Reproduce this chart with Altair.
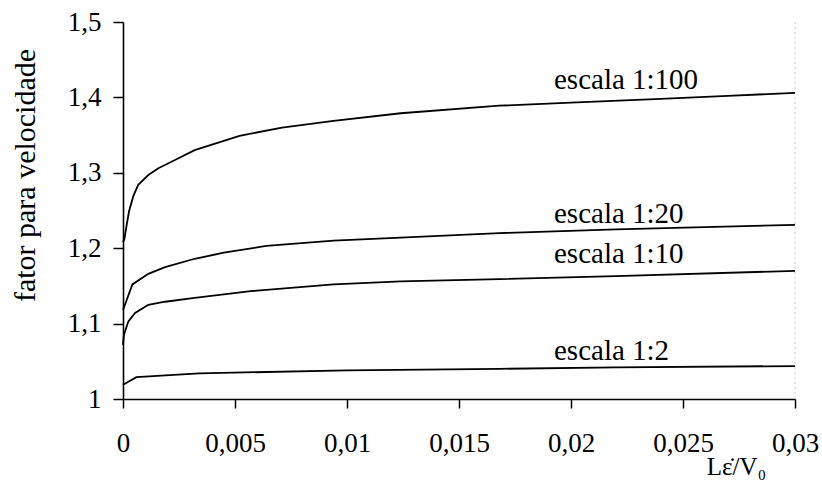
import altair as alt
import pandas as pd

# Velocity factor curves for each model scale
x_100 = [0, 0.00006, 0.000165, 0.00027, 0.00046, 0.00068, 0.00113, 0.00158, 0.00232,
         0.0032, 0.0052, 0.0071, 0.0094, 0.0124, 0.0168, 0.020, 0.024, 0.027, 0.03]
y_100 = [1.208, 1.212, 1.231, 1.249, 1.269, 1.284, 1.297, 1.306, 1.317,
         1.330, 1.349, 1.360, 1.369, 1.379, 1.389, 1.393, 1.398, 1.402, 1.406]

x_20 = [0, 0.00042, 0.00113, 0.00188, 0.0032, 0.0045, 0.0064, 0.0094, 0.0124, 0.0168, 0.022, 0.03]
y_20 = [1.118, 1.152, 1.166, 1.175, 1.186, 1.194, 1.203, 1.210, 1.214, 1.220, 1.225, 1.231]

x_10 = [0, 0.00004, 0.00024, 0.00054, 0.00113, 0.00188, 0.0032, 0.0057, 0.0094, 0.0124, 0.0168, 0.022, 0.03]
y_10 = [1.072, 1.085, 1.103, 1.114, 1.125, 1.129, 1.134, 1.143, 1.152, 1.156, 1.159, 1.163, 1.170]

x_2 = [0, 0.0006, 0.0034, 0.01, 0.0168, 0.022, 0.03]
y_2 = [1.019, 1.029, 1.034, 1.038, 1.040, 1.042, 1.0437]

series_names = ["escala 1:100", "escala 1:20", "escala 1:10", "escala 1:2"]
series_x = [x_100, x_20, x_10, x_2]
series_y = [y_100, y_20, y_10, y_2]

# Curve labels, placed just above the right part of each curve
label_x = [0.01924, 0.01924, 0.01924, 0.01924]
label_y = [1.411, 1.233, 1.180, 1.052]

x_ticks = [0, 0.005, 0.01, 0.015, 0.02, 0.025, 0.03]
y_ticks = [1, 1.1, 1.2, 1.3, 1.4, 1.5]

FONT = "Liberation Serif, Times New Roman, Times, serif"

rows = []
for name, xs, ys in zip(series_names, series_x, series_y):
    for xv, yv in zip(xs, ys):
        rows.append({"serie": name, "x": xv, "y": yv})
curves = pd.DataFrame(rows)
labels = pd.DataFrame({"serie": series_names, "x": label_x, "y": label_y})
edge = pd.DataFrame({"x": [0.03], "y": [1.0], "y2": [1.5]})

x_scale = alt.Scale(domain=[0, 0.03], nice=False, zero=False)
y_scale = alt.Scale(domain=[1, 1.5], nice=False, zero=False)

label_expr = "replace(format(datum.value, '~g'), '.', ',')"

x_axis = alt.Axis(
    values=x_ticks, labelExpr=label_expr, grid=False,
    domainColor="black", domainWidth=1.6, tickColor="black", tickWidth=1.5, tickSize=9,
    labelFont=FONT, labelFontSize=27, labelColor="black", labelPadding=22,
    labelFlush=False, labelOverlap=False,
    title="Lε̇/V₀", titleFont=FONT, titleFontSize=25, titleFontWeight="normal",
    titleColor="black", titleX=613, titleY=55, titleAlign="center", titleBaseline="top",
)
y_axis = alt.Axis(
    values=y_ticks, labelExpr=label_expr, grid=False,
    domainColor="black", domainWidth=1.6, tickColor="black", tickWidth=1.5, tickSize=10,
    labelFont=FONT, labelFontSize=27, labelColor="black", labelPadding=12,
    labelFlush=False, labelOverlap=False,
    title="fator para velocidade", titleFont=FONT, titleFontSize=30,
    titleFontWeight="normal", titleColor="black", titleX=-98, titleY=153,
    titleAlign="center", titleBaseline="middle",
)

edge_line = alt.Chart(edge).mark_rule(
    color="#c8c8c8", strokeWidth=1, strokeDash=[2, 3]
).encode(
    x=alt.X("x:Q", scale=x_scale, axis=x_axis),
    y=alt.Y("y:Q", scale=y_scale, axis=y_axis),
    y2="y2:Q",
)

lines = alt.Chart(curves).mark_line(color="black", strokeWidth=1.8).encode(
    x=alt.X("x:Q", scale=x_scale),
    y=alt.Y("y:Q", scale=y_scale),
    detail="serie:N",
    order="x:Q",
)

texts = alt.Chart(labels).mark_text(
    align="left", baseline="alphabetic", font=FONT, fontSize=29, color="black"
).encode(
    x=alt.X("x:Q", scale=x_scale),
    y=alt.Y("y:Q", scale=y_scale),
    text="serie:N",
)

chart = (
    alt.layer(edge_line, lines, texts)
    .properties(
        width=672,
        height=377,
        padding={"left": 123, "top": 22, "right": 27, "bottom": 85},
        autosize=alt.AutoSizeParams(type="none"),
        background="white",
    )
    .configure(font=FONT)
    .configure_view(stroke="transparent")
)

chart.save("out.html", embed_options={"renderer": "svg", "actions": False})
